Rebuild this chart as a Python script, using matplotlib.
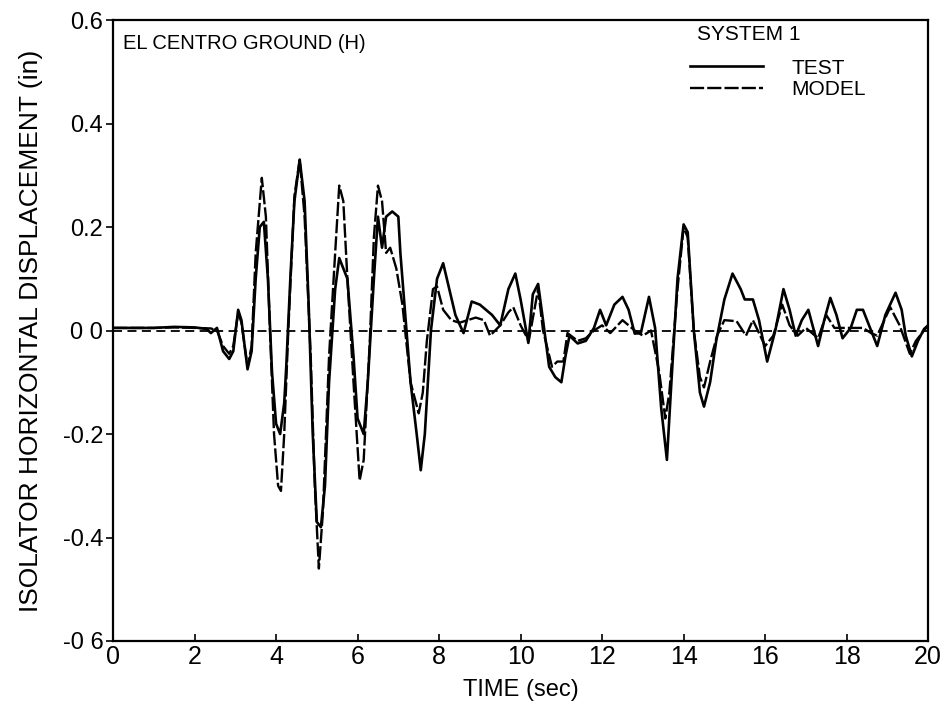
import matplotlib
matplotlib.use("Agg")
import matplotlib.pyplot as plt

# ---- data ----
test_t = [0, 0.5, 1.0, 1.5, 2.0, 2.3, 2.4, 2.55, 2.7, 2.85, 2.95, 3.07, 3.15, 3.3, 3.4,
          3.5, 3.6, 3.7, 3.8, 3.9, 4.0, 4.1, 4.2, 4.25, 4.35, 4.45, 4.58, 4.7, 4.8, 4.9,
          5.0, 5.1, 5.2, 5.3, 5.45, 5.55, 5.65, 5.75, 5.9, 6.0, 6.15, 6.25, 6.4, 6.5,
          6.6, 6.7, 6.85, 7.0, 7.05, 7.15, 7.3, 7.45, 7.55, 7.65, 7.8, 7.95, 8.1, 8.25,
          8.4, 8.6, 8.8, 9.0, 9.3, 9.5, 9.7, 9.87, 10.0, 10.19, 10.3, 10.43, 10.55, 10.7,
          10.85, 11.0, 11.1, 11.2, 11.4, 11.6, 11.8, 11.95, 12.1, 12.3, 12.5, 12.65, 12.8,
          12.95, 13.15, 13.3, 13.45, 13.59, 13.7, 13.85, 14.0, 14.1, 14.25, 14.4, 14.5,
          14.65, 14.8, 15.0, 15.2, 15.4, 15.5, 15.7, 15.85, 16.05, 16.25, 16.45, 16.6,
          16.75, 16.9, 17.06, 17.3, 17.45, 17.6, 17.75, 17.9, 18.1, 18.25, 18.4, 18.6,
          18.75, 18.95, 19.2, 19.35, 19.45, 19.6, 19.75, 19.9, 20.0]
test_y = [0.005, 0.005, 0.005, 0.007, 0.006, 0.003, -0.005, 0.005, -0.04, -0.055, -0.04, 0.04, 0.02, -0.075, -0.04,
          0.1, 0.2, 0.21, 0.1, -0.08, -0.18, -0.2, -0.14, -0.07, 0.1, 0.25, 0.33, 0.25, 0.05, -0.2,
          -0.37, -0.38, -0.3, -0.1, 0.08, 0.14, 0.12, 0.1, -0.05, -0.17, -0.2, -0.1, 0.1, 0.22,
          0.16, 0.22, 0.23, 0.22, 0.15, 0.05, -0.1, -0.2, -0.27, -0.2, 0.0, 0.1, 0.13, 0.08,
          0.03, -0.005, 0.056, 0.05, 0.03, 0.01, 0.08, 0.11, 0.06, -0.024, 0.07, 0.09, 0.02, -0.07,
          -0.09, -0.1, -0.05, -0.01, -0.025, -0.02, 0.005, 0.04, 0.01, 0.05, 0.065, 0.04, -0.006,
          -0.005, 0.065, 0.005, -0.15, -0.25, -0.1, 0.1, 0.205, 0.19, 0.0, -0.12, -0.147,
          -0.1, -0.02, 0.06, 0.11, 0.08, 0.06, 0.06, 0.02, -0.06, 0.0, 0.08, 0.04,
          -0.01, 0.02, 0.04, -0.03, 0.02, 0.063, 0.03, -0.015, 0.005, 0.04, 0.04, 0.0,
          -0.03, 0.03, 0.073, 0.04, -0.01, -0.05, -0.02, 0.003, 0.01]

model_t = [0, 0.5, 1.0, 1.5, 2.0, 2.4, 2.55, 2.7, 2.85, 2.95, 3.07, 3.15, 3.3, 3.4,
           3.5, 3.65, 3.75, 3.85, 3.95, 4.05, 4.12, 4.2, 4.3, 4.45, 4.58, 4.7, 4.85, 4.95,
           5.05, 5.15, 5.3, 5.45, 5.55, 5.65, 5.75, 5.9, 6.05, 6.15, 6.3, 6.4, 6.5, 6.6,
           6.7, 6.8, 6.95, 7.1, 7.3, 7.5, 7.6, 7.7, 7.85, 7.95, 8.1, 8.3, 8.5, 8.7, 8.9,
           9.1, 9.25, 9.5, 9.7, 9.82, 10.0, 10.2, 10.43, 10.55, 10.77, 10.9, 11.05, 11.15,
           11.4, 11.6, 11.8, 12.0, 12.2, 12.5, 12.8, 13.0, 13.2, 13.4, 13.55, 13.65, 13.85,
           14.0, 14.1, 14.25, 14.4, 14.5, 14.65, 14.82, 15.0, 15.3, 15.53, 15.7, 16.0, 16.2,
           16.42, 16.6, 16.8, 17.0, 17.3, 17.5, 17.7, 18.0, 18.4, 18.6, 18.75, 19.07, 19.3,
           19.55, 19.7, 19.9, 20.0]
model_y = [0.005, 0.005, 0.005, 0.006, 0.005, 0.004, 0.0, -0.03, -0.045, -0.03, 0.035, 0.015, -0.07, -0.03,
           0.15, 0.295, 0.22, 0.0, -0.2, -0.3, -0.31, -0.2, 0.0, 0.26, 0.33, 0.22, -0.05, -0.3,
           -0.46, -0.35, -0.05, 0.15, 0.28, 0.25, 0.1, -0.1, -0.29, -0.25, -0.02, 0.18, 0.28, 0.25,
           0.15, 0.16, 0.12, 0.05, -0.1, -0.16, -0.12, -0.02, 0.08, 0.085, 0.04, 0.02, 0.015, 0.02, 0.025,
           0.02, -0.01, 0.01, 0.035, 0.045, 0.01, -0.02, 0.08, 0.0, -0.07, -0.06, -0.06, -0.005,
           -0.02, -0.015, 0.0, 0.01, -0.005, 0.02, 0.0, -0.01, 0.0, -0.08, -0.17, -0.12, 0.08,
           0.2, 0.18, 0.0, -0.09, -0.11, -0.06, -0.01, 0.02, 0.018, -0.01, 0.02, -0.03, -0.01,
           0.05, 0.01, -0.01, 0.005, -0.015, 0.03, 0.005, 0.005, 0.005, -0.005, -0.01, 0.045, 0.01,
           -0.045, -0.02, 0.0, 0.01]

xticks = [0, 2, 4, 6, 8, 10, 12, 14, 16, 18, 20]
yticks = [-0.6, -0.4, -0.2, 0.0, 0.2, 0.4, 0.6]
ytick_labels = ["-0 6", "-0.4", "-0.2", "0 0", "0.2", "0.4", "0.6"]

plt.rcParams['font.family'] = ['Liberation Sans', 'DejaVu Sans']

fig = plt.figure(figsize=(9.5, 7.15), dpi=100)
ax = fig.add_axes([0.119, 0.1035, 0.858, 0.8685])

ax.axhline(0.0, color='black', lw=1.3, ls=(0, (5, 3)), zorder=1)
l1, = ax.plot(test_t, test_y, color='black', lw=1.9, label='TEST', zorder=3)
l2, = ax.plot(model_t, model_y, color='black', lw=1.7, ls=(0, (6, 1.3)), label='MODEL', zorder=2)

ax.set_xlim(0, 20)
ax.set_ylim(-0.6, 0.6)
ax.set_xticks(xticks)
ax.set_xticklabels([str(v) for v in xticks])
ax.set_yticks(yticks)
ax.set_yticklabels(ytick_labels)
ax.tick_params(axis='x', direction='in', length=5, width=1.2, labelsize=18, pad=3)
ax.tick_params(axis='y', direction='out', length=5, width=1.2, labelsize=17, pad=2)
for s in ax.spines.values():
    s.set_linewidth(1.6)

ax.set_xlabel('TIME (sec)', fontsize=17, labelpad=7)
ax.set_ylabel('ISOLATOR HORIZONTAL DISPLACEMENT (in)', fontsize=19, labelpad=14)

ax.text(0.012, 0.978, 'EL CENTRO GROUND (H)', transform=ax.transAxes,
        fontsize=14.5, va='top', ha='left')

ax.text(0.7166, 0.976, 'SYSTEM 1', transform=ax.transAxes,
        fontsize=15, va='center', ha='left')

leg = ax.legend(handles=[l1, l2], loc='upper left',
                bbox_to_anchor=(0.708, 0.938), frameon=False, fontsize=15,
                handlelength=3.5, handletextpad=1.35,
                labelspacing=0.12, borderpad=0.0, borderaxespad=0.0)

fig.savefig('out.png', dpi=100)
